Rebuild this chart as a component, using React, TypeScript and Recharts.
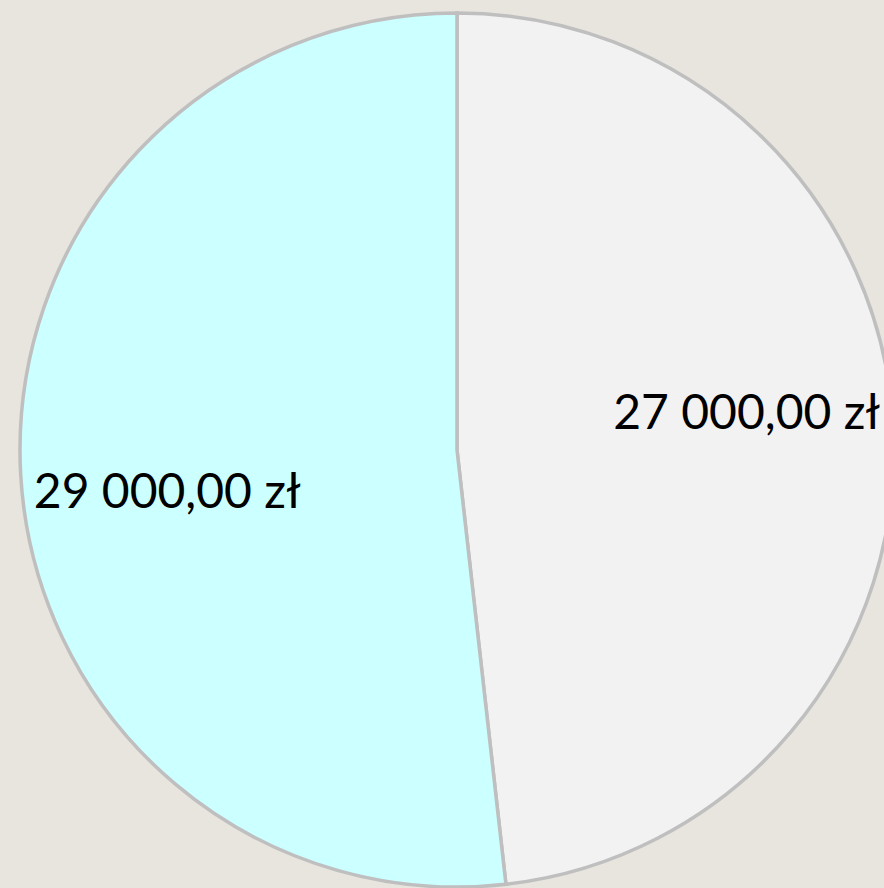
import React from 'react';
import { PieChart, Pie, Cell } from 'recharts';

const labels = ['27 000,00 zł', '29 000,00 zł'];
const amounts = [27000, 29000];
const colors = ['#f2f2f2', '#ccffff'];

const data = labels.map((name, i) => ({ name, value: amounts[i] }));

const RAD = Math.PI / 180;

const renderLabel = (props: any) => {
  const { cx, cy, midAngle, outerRadius, index } = props;
  const x = cx + Math.cos(-midAngle * RAD) * outerRadius * 0.664;
  const y = cy + Math.sin(-midAngle * RAD) * outerRadius * 1.63;
  return (
    <text
      x={x}
      y={y}
      textAnchor="middle"
      dominantBaseline="central"
      fill="#000"
      fontSize={48}
      fontFamily="Lato, 'Noto Sans', sans-serif"
    >
      {labels[index]}
    </text>
  );
};

export default function App() {
  return (
    <div style={{ position: 'fixed', top: 0, left: 0, width: 884, height: 888, background: '#e8e4de', overflow: 'hidden' }}>
      <PieChart width={884} height={888} margin={{ top: 0, right: 0, bottom: 0, left: 0 }}>
        <Pie
          data={data}
          dataKey="value"
          cx={457}
          cy={450}
          outerRadius={437}
          startAngle={90}
          endAngle={-270}
          stroke="#bfbfbf"
          strokeWidth={3.5}
          label={renderLabel}
          labelLine={false}
          isAnimationActive={false}
        >
          {data.map((d, i) => (
            <Cell key={d.name} fill={colors[i]} />
          ))}
        </Pie>
      </PieChart>
    </div>
  );
}
